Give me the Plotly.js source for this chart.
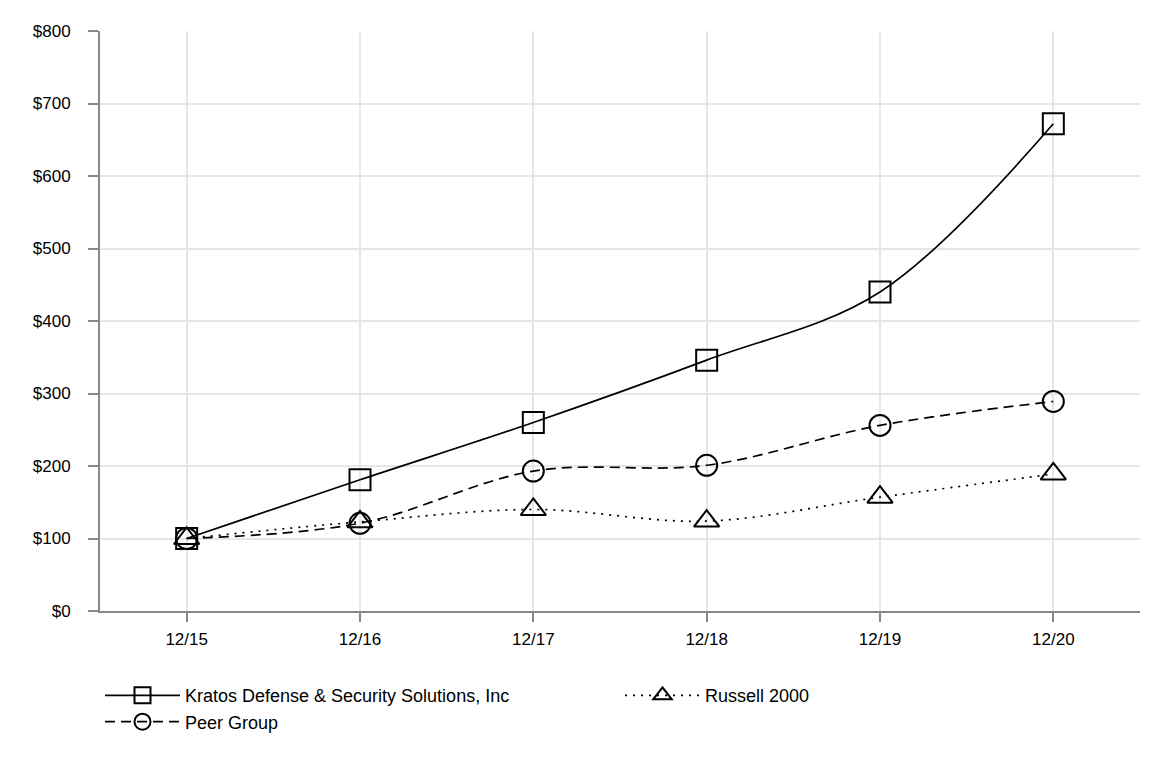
<!DOCTYPE html>
<html><head><meta charset="utf-8">
<script src="https://cdn.plot.ly/plotly-3.0.1.min.js"></script>
<style>body{margin:0;background:#fff}#chart{width:1170px;height:770px}</style>
</head><body><div id="chart"></div>
<script>
const years = ["12/15","12/16","12/17","12/18","12/19","12/20"];
const kratos = [100, 181, 260, 346, 440, 672];
const peer = [100, 121, 193, 201, 256, 289];
const russell = [100, 123, 140, 124, 157, 189];
const yTicks = [0,100,200,300,400,500,600,700,800];
const yLabels = yTicks.map(v => "$" + v);

const common = {type:"scatter", mode:"lines+markers", x: years};
const traces = [
  Object.assign({}, common, {name:"Kratos Defense & Security Solutions, Inc", y: kratos,
    line:{color:"#000", width:1.7, shape:"spline", dash:"solid"},
    marker:{symbol:"square-open", size:21, color:"#000", line:{width:2, color:"#000"}}}),
  Object.assign({}, common, {name:"Russell 2000", y: russell,
    line:{color:"#000", width:1.7, shape:"spline", dash:"2px,6px"},
    marker:{symbol:"triangle-up-open", size:22, color:"#000", line:{width:2, color:"#000"}}}),
  Object.assign({}, common, {name:"Peer Group", y: peer,
    line:{color:"#000", width:1.7, shape:"spline", dash:"10px,6px"},
    marker:{symbol:"circle-open", size:21, color:"#000", line:{width:2, color:"#000"}}})
];

const layout = {
  width:1170, height:770,
  margin:{l:100, r:30, t:31, b:159},
  paper_bgcolor:"#fff", plot_bgcolor:"#fff",
  font:{family:"Liberation Sans, Arial, sans-serif", size:17, color:"#000"},
  showlegend:true,
  legend:{orientation:"h", x:0, xanchor:"left", y:-0.114, yanchor:"top", itemwidth:75,
    entrywidth:430, entrywidthmode:"pixels", font:{size:18}, tracegroupgap:0},
  xaxis:{type:"category", range:[-0.5,5.5], showgrid:true, gridcolor:"#e6e6e6", gridwidth:2,
    showline:true, linecolor:"#888", linewidth:2, ticks:"outside", ticklen:9, tickcolor:"#888", tickwidth:2,
    zeroline:false, tickfont:{size:17}, ticklabelstandoff:3},
  yaxis:{range:[0,800], tickvals:yTicks, ticktext:yLabels, showgrid:true, gridcolor:"#e6e6e6", gridwidth:2,
    showline:true, linecolor:"#888", linewidth:2, ticks:"outside", ticklen:10, tickcolor:"#888", tickwidth:2,
    zeroline:false, tickfont:{size:17}, ticklabelstandoff:14}
};
Plotly.newPlot("chart", traces, layout, {displayModeBar:false, staticPlot:true});
</script></body></html>
